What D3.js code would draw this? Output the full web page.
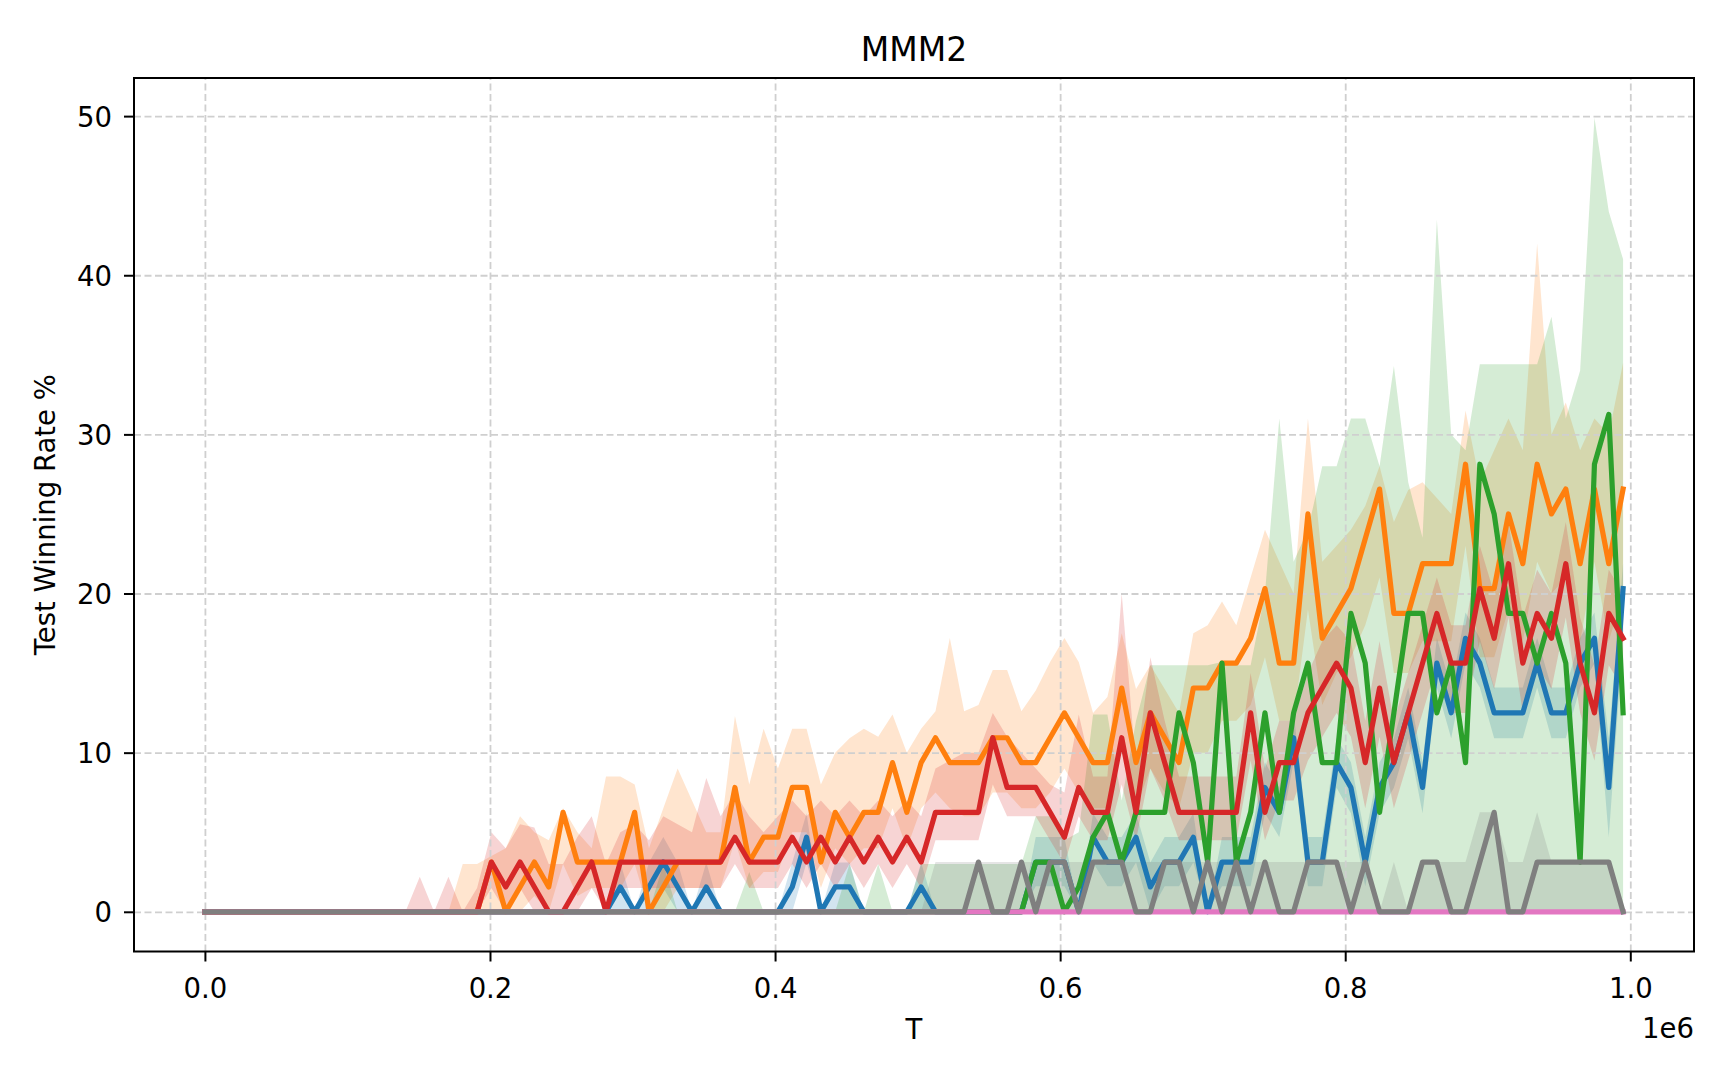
<html>
  <head>
    <script src="https://d3js.org/d3.v7.min.js"></script>
  <style>
    body {
      margin: 0;
      background: #fff;
    }

    text {
      font-family: "DejaVu Sans", sans-serif;
      fill: black;
    }

    .gridlines line {
      stroke: #cfcfcf;
      stroke-width: 1.8;
      stroke-dasharray: 7, 3.5;
    }

    .gridlines .domain {
      stroke: none;
    }

    .axis .domain {
      stroke: none;
    }

    .axis line {
      stroke: black;
      stroke-width: 2;
    }

    .axis text {
      font-size: 27.5px;
    }
  </style>
  </head>

  <body>
    <svg id="mainSVG" width="1728" height="1080"></svg>
  </body>

  <script>
      // environment steps (T)
      const T = [
        0, 10050, 20100, 30150, 40200, 50250, 60300, 70350, 80400, 90450,
        100500, 110550, 120600, 130650, 140700, 150750, 160800, 170850, 180900, 190950,
        201000, 211050, 221100, 231150, 241200, 251250, 261300, 271350, 281400, 291450,
        301500, 311550, 321600, 331650, 341700, 351750, 361800, 371850, 381900, 391950,
        402000, 412050, 422100, 432150, 442200, 452250, 462300, 472350, 482400, 492450,
        502500, 512550, 522600, 532650, 542700, 552750, 562800, 572850, 582900, 592950,
        603000, 613050, 623100, 633150, 643200, 653250, 663300, 673350, 683400, 693450,
        703500, 713550, 723600, 733650, 743700, 753750, 763800, 773850, 783900, 793950,
        804000, 814050, 824100, 834150, 844200, 854250, 864300, 874350, 884400, 894450,
        904500, 914550, 924600, 934650, 944700, 954750, 964800, 974850, 984900, 994950
      ];

      // blue run
      const blueMean = [
        0, 0, 0, 0, 0, 0, 0, 0, 0, 0,
        0, 0, 0, 0, 0, 0, 0, 0, 0, 0,
        0, 0, 0, 0, 0, 0, 0, 0, 0, 1.5625,
        0, 1.5625, 3.125, 1.5625, 0, 1.5625, 0, 0, 0, 0,
        0, 1.5625, 4.6875, 0, 1.5625, 1.5625, 0, 0, 0, 0,
        1.5625, 0, 0, 0, 0, 0, 0, 0, 3.125, 3.125,
        3.125, 0, 4.6875, 3.125, 3.125, 4.6875, 1.5625, 3.125, 3.125, 4.6875,
        0, 3.125, 3.125, 3.125, 7.8125, 6.25, 10.9375, 3.125, 3.125, 9.375,
        7.8125, 3.125, 7.8125, 9.375, 12.5, 7.8125, 15.625, 12.5, 17.1875, 15.625,
        12.5, 12.5, 12.5, 15.625, 12.5, 12.5, 15.625, 17.1875, 7.8125, 20.3125
      ];
      const blueLo = [
        0, 0, 0, 0, 0, 0, 0, 0, 0, 0,
        0, 0, 0, 0, 0, 0, 0, 0, 0, 0,
        0, 0, 0, 0, 0, 0, 0, 0, 0, 0,
        0, 0, 1.5, 0, 0, 0, 0, 0, 0, 0,
        0, 0, 3.1, 0, 0, 0, 0, 0, 0, 0,
        0, 0, 0, 0, 0, 0, 0, 0, 1.6, 1.6,
        1.6, 0, 3.1, 1.6, 1.6, 3.1, 0, 1.6, 1.6, 3.1,
        0, 1.6, 1.6, 1.6, 6.2, 4.7, 9.4, 1.6, 1.6, 7.8,
        6.2, 1.6, 6.2, 7.8, 10.9, 6.2, 14.1, 10.9, 15.6, 14.1,
        10.9, 10.9, 10.9, 14.1, 10.9, 10.9, 14.1, 15.6, 4.7, 17.2
      ];
      const blueHi = [
        0, 0, 0, 0, 0, 0, 0, 0, 0, 0,
        0, 0, 0, 0, 0, 0, 0, 0, 0, 0,
        0, 0, 0, 0, 0, 0, 0, 0, 0, 3.1,
        0, 3.1, 4.7, 3.1, 0, 3.1, 0, 0, 0, 0,
        0, 3.1, 6.2, 0, 3.1, 3.1, 0, 0, 0, 0,
        3.1, 0, 0, 0, 0, 0, 0, 0, 4.7, 4.7,
        4.7, 0, 6.2, 4.7, 4.7, 6.2, 3.1, 4.7, 4.7, 6.2,
        0, 4.7, 4.7, 4.7, 9.4, 7.8, 12.5, 4.7, 4.7, 10.9,
        9.4, 4.7, 9.4, 10.9, 14.1, 9.4, 17.2, 14.1, 18.8, 17.2,
        14.1, 14.1, 14.1, 17.2, 14.1, 14.1, 17.2, 18.8, 10.9, 21.9
      ];

      // orange run
      const orangeMean = [
        0, 0, 0, 0, 0, 0, 0, 0, 0, 0,
        0, 0, 0, 0, 0, 0, 0, 0, 0, 0,
        3.125, 0, 1.5625, 3.125, 1.5625, 6.25, 3.125, 3.125, 3.125, 3.125,
        6.25, 0, 1.5625, 3.125, 3.125, 3.125, 3.125, 7.8125, 3.125, 4.6875,
        4.6875, 7.8125, 7.8125, 3.125, 6.25, 4.6875, 6.25, 6.25, 9.375, 6.25,
        9.375, 10.9375, 9.375, 9.375, 9.375, 10.9375, 10.9375, 9.375, 9.375, 10.9375,
        12.5, 10.9375, 9.375, 9.375, 14.0625, 9.375, 12.5, 10.9375, 9.375, 14.0625,
        14.0625, 15.625, 15.625, 17.1875, 20.3125, 15.625, 15.625, 25, 17.1875, 18.75,
        20.3125, 23.4375, 26.5625, 18.75, 18.75, 21.875, 21.875, 21.875, 28.125, 20.3125,
        20.3125, 25, 21.875, 28.125, 25, 26.5625, 21.875, 26.5625, 21.875, 26.5625
      ];
      const orangeLo = [
        0, 0, 0, 0, 0, 0, 0, 0, 0, 0,
        0, 0, 0, 0, 0, 0, 0, 0, 0, 0,
        0, 0, 0, 1, 0, 3, 1, 1.5, 1.5, 1.5,
        3, 0, 0, 1.5, 1.5, 1.5, 1.5, 4.5, 1.5, 2.5,
        2.5, 5, 5, 1.5, 4, 3, 4, 4, 6.5, 4,
        6.5, 7.5, 6.5, 6, 6, 7.5, 7.5, 6.5, 6.5, 7.5,
        9, 7.5, 6.5, 6.5, 10.5, 6.5, 9, 7.5, 6.5, 10,
        10, 12, 12, 13, 16, 12, 12, 19, 13, 15,
        16, 18, 21, 15, 15, 17, 17, 17, 23, 16,
        16, 19, 17, 22, 20, 21, 17, 22, 17, 20
      ];
      const orangeHi = [
        0, 0, 0, 0, 0, 0, 0, 0, 0, 0,
        0, 0, 0, 0, 0, 0, 0, 0, 3, 3,
        3.5, 4, 6, 5, 4.5, 6.5, 5, 4, 8.5, 8.5,
        8, 4, 6.5, 9, 7, 5, 5, 12.3, 8, 11.5,
        9, 11.5, 11.5, 8, 10, 10.9, 11.5, 11, 12.4, 10,
        11.5, 12.6, 17.2, 12.6, 13, 15.2, 15.2, 12.6, 13.9, 15.7,
        17.2, 15.7, 12.5, 13.5, 17.5, 14, 15.5, 14, 12.5, 17.5,
        18, 19.5, 18, 21, 24, 22, 20, 31, 22, 23,
        24, 25.5, 28, 24.5, 26.5, 27, 26, 25, 31.5, 27,
        29, 31, 29, 42, 30, 32, 29, 31, 30, 34.5
      ];

      // green run
      const greenMean = [
        0, 0, 0, 0, 0, 0, 0, 0, 0, 0,
        0, 0, 0, 0, 0, 0, 0, 0, 0, 0,
        0, 0, 0, 0, 0, 0, 0, 0, 0, 0,
        0, 0, 0, 0, 0, 0, 0, 0, 0, 0,
        0, 0, 0, 0, 0, 0, 0, 0, 0, 0,
        0, 0, 0, 0, 0, 0, 0, 0, 3.125, 3.125,
        0, 1.5625, 4.6875, 6.25, 3.125, 6.25, 6.25, 6.25, 12.5, 9.375,
        3.125, 15.625, 3.125, 6.25, 12.5, 6.25, 12.5, 15.625, 9.375, 9.375,
        18.75, 15.625, 6.25, 12.5, 18.75, 18.75, 12.5, 15.625, 9.375, 28.125,
        25, 18.75, 18.75, 15.625, 18.75, 15.625, 3.125, 28.125, 31.25, 12.5
      ];
      const greenLo = [
        0, 0, 0, 0, 0, 0, 0, 0, 0, 0,
        0, 0, 0, 0, 0, 0, 0, 0, 0, 0,
        0, 0, 0, 0, 0, 0, 0, 0, 0, 0,
        0, 0, 0, 0, 0, 0, 0, 0, 0, 0,
        0, 0, 0, 0, 0, 0, 0, 0, 0, 0,
        0, 0, 0, 0, 0, 0, 0, 0, 0, 0,
        0, 0, 0, 0, 0, 0, 0, 0, 0, 0,
        0, 0, 0, 0, 0, 0, 0, 0, 0, 0,
        0, 0, 0, 0, 0, 0, 0, 0, 0, 0,
        0, 0, 0, 0, 0, 0, 0, 0, 0, 0
      ];
      const greenHi = [
        0, 0, 0, 0, 0, 0, 0, 0, 0, 0,
        0, 0, 0, 0, 0, 0, 0, 0, 0, 0,
        0, 0, 0, 0, 0, 0, 0, 0, 0, 0,
        0, 0, 3, 0, 0, 0, 0, 0, 2.5, 0,
        0, 0, 0, 0, 0, 3, 0, 3, 0, 0,
        3, 3, 3, 3, 3, 3, 3, 3, 6, 6,
        4.5, 5, 12.4, 12.4, 7, 12, 15.5, 15.5, 15.5, 15.5,
        15.5, 15.7, 15.5, 15.5, 20, 31, 22, 24, 28, 28,
        31, 31, 28, 34.3, 27, 23.5, 43.5, 30, 29, 34.4,
        34.4, 34.4, 34.4, 34.4, 37.4, 31, 34, 49.9, 44, 41
      ];

      // red run
      const redMean = [
        0, 0, 0, 0, 0, 0, 0, 0, 0, 0,
        0, 0, 0, 0, 0, 0, 0, 0, 0, 0,
        3.125, 1.5625, 3.125, 1.5625, 0, 0, 1.5625, 3.125, 0, 3.125,
        3.125, 3.125, 3.125, 3.125, 3.125, 3.125, 3.125, 4.6875, 3.125, 3.125,
        3.125, 4.6875, 3.125, 4.6875, 3.125, 4.6875, 3.125, 4.6875, 3.125, 4.6875,
        3.125, 6.25, 6.25, 6.25, 6.25, 10.9375, 7.8125, 7.8125, 7.8125, 6.25,
        4.6875, 7.8125, 6.25, 6.25, 10.9375, 6.25, 12.5, 9.375, 6.25, 6.25,
        6.25, 6.25, 6.25, 12.5, 6.25, 9.375, 9.375, 12.5, 14.0625, 15.625,
        14.0625, 9.375, 14.0625, 9.375, 12.5, 15.625, 18.75, 15.625, 15.625, 20.3125,
        17.1875, 21.875, 15.625, 18.75, 17.1875, 21.875, 15.625, 12.5, 18.75, 17.1875
      ];
      const redLo = [
        0, 0, 0, 0, 0, 0, 0, 0, 0, 0,
        0, 0, 0, 0, 0, 0, 0, 0, 0, 0,
        1.5, 0, 1.5, 0, 0, 0, 0, 1.5, 0, 1.5,
        1.5, 1.5, 1.5, 1.5, 1.5, 1.5, 1.5, 3, 1.5, 1.5,
        1.5, 3, 1.5, 3, 1.5, 3, 1.5, 3, 1.5, 3,
        1.5, 4.5, 4.5, 4.5, 4.5, 8, 6, 6, 6, 4.5,
        3, 6, 4.5, 4.5, 8, 4.5, 9, 7, 4.5, 4.5,
        4.5, 4.5, 4.5, 9.5, 4.5, 7, 7, 9.5, 11, 12.5,
        11, 6.5, 11, 6.5, 9.5, 12.5, 15.5, 12.5, 12.5, 17,
        14, 18.5, 12.5, 15.5, 14, 18.5, 12.5, 9.5, 15.5, 14
      ];
      const redHi = [
        0, 0, 0, 0, 0, 0, 0, 0, 0, 0,
        0, 0, 0, 0, 0, 2.2, 0, 2.2, 0, 1.5,
        5, 4, 5.5, 5.3, 3, 3, 4.7, 6, 3, 5,
        5.5, 4.5, 6, 5.5, 5, 8.4, 6, 7.5, 6, 5,
        6, 7, 6, 7, 6, 7, 6, 7, 6, 7,
        6, 9, 9.5, 10, 10, 12.5, 11, 10, 9, 8,
        7.5, 12.4, 8.5, 8.5, 20, 9, 16, 12, 8.5, 8.5,
        8.5, 8.5, 8.5, 15, 9, 12, 12, 15, 17, 18,
        17, 12, 17, 12, 15, 18, 21, 18, 18, 23,
        20, 24.5, 18.5, 21.5, 20, 24.5, 18.5, 15.5, 21.5, 20
      ];

      // pink run (never wins)
      const pinkMean = [
        0, 0, 0, 0, 0, 0, 0, 0, 0, 0,
        0, 0, 0, 0, 0, 0, 0, 0, 0, 0,
        0, 0, 0, 0, 0, 0, 0, 0, 0, 0,
        0, 0, 0, 0, 0, 0, 0, 0, 0, 0,
        0, 0, 0, 0, 0, 0, 0, 0, 0, 0,
        0, 0, 0, 0, 0, 0, 0, 0, 0, 0,
        0, 0, 0, 0, 0, 0, 0, 0, 0, 0,
        0, 0, 0, 0, 0, 0, 0, 0, 0, 0,
        0, 0, 0, 0, 0, 0, 0, 0, 0, 0,
        0, 0, 0, 0, 0, 0, 0, 0, 0, 0
      ];

      // gray run
      const grayMean = [
        0, 0, 0, 0, 0, 0, 0, 0, 0, 0,
        0, 0, 0, 0, 0, 0, 0, 0, 0, 0,
        0, 0, 0, 0, 0, 0, 0, 0, 0, 0,
        0, 0, 0, 0, 0, 0, 0, 0, 0, 0,
        0, 0, 0, 0, 0, 0, 0, 0, 0, 0,
        0, 0, 0, 0, 3.125, 0, 0, 3.125, 0, 3.125,
        3.125, 0, 3.125, 3.125, 3.125, 0, 0, 3.125, 3.125, 0,
        3.125, 0, 3.125, 0, 3.125, 0, 0, 3.125, 3.125, 3.125,
        0, 3.125, 0, 0, 0, 3.125, 3.125, 0, 0, 3.125,
        6.25, 0, 0, 3.125, 3.125, 3.125, 3.125, 3.125, 3.125, 0
      ];
      const grayHi = [
        0, 0, 0, 0, 0, 0, 0, 0, 0, 0,
        0, 0, 0, 0, 0, 0, 0, 0, 0, 0,
        0, 0, 0, 0, 0, 0, 0, 0, 0, 0,
        0, 0, 0, 0, 0, 0, 0, 0, 0, 0,
        0, 0, 0, 0, 0, 0, 0, 0, 0, 0,
        0, 3.125, 3.125, 3.125, 3.125, 3.125, 3.125, 3.125, 3.125, 3.125,
        3.125, 3.125, 3.125, 3.125, 3.125, 3.125, 3.125, 3.125, 3.125, 3.125,
        3.125, 3.125, 3.125, 3.125, 3.125, 3.125, 3.125, 3.125, 3.125, 3.125,
        3.125, 3.125, 0, 3.125, 0, 3.125, 3.125, 3.125, 3.125, 6.25,
        6.25, 3.125, 3.125, 6.25, 3.125, 3.125, 3.125, 3.125, 3.125, 0
      ];

      const xTicks = [0, 200000, 400000, 600000, 800000, 1000000];
      const yTicks = [0, 10, 20, 30, 40, 50];

      // series table (plot order = tab10 order)
      const series = [
        { key: "blue",   color: "#1f77b4", mean: blueMean,   lo: blueLo,  hi: blueHi },
        { key: "orange", color: "#ff7f0e", mean: orangeMean, lo: orangeLo, hi: orangeHi },
        { key: "green",  color: "#2ca02c", mean: greenMean,  lo: greenLo, hi: greenHi },
        { key: "red",    color: "#d62728", mean: redMean,    lo: redLo,   hi: redHi },
        { key: "pink",   color: "#e377c2", mean: pinkMean,   lo: null,    hi: null },
        { key: "gray",   color: "#7f7f7f", mean: grayMean,   lo: greenLo, hi: grayHi }
      ];

      // Set up the main SVG and dimensions
      const mainSvg = d3.select("#mainSVG");
      const margin = { top: 78, right: 34, bottom: 128.5, left: 134 };
      const width = 1728 - margin.left - margin.right;
      const height = 1080 - margin.top - margin.bottom;

      const graphGroup = mainSvg.append("g")
        .attr("transform", `translate(${margin.left},${margin.top})`);

      // matplotlib style 5% margins
      const xMin = d3.min(T), xMax = d3.max(T);
      const xPad = (xMax - xMin) * 0.05;
      const xScale = d3.scaleLinear()
        .domain([xMin - xPad, xMax + xPad])
        .range([0, width]);

      const allY = series.flatMap(s => s.hi ? s.mean.concat(s.hi, s.lo) : s.mean);
      const yMin = d3.min(allY), yMax = d3.max(allY);
      const yPad = (yMax - yMin) * 0.05;
      const yScale = d3.scaleLinear()
        .domain([yMin - yPad, yMax + yPad])
        .range([height, 0]);

      // shaded bands first
      const area = d3.area()
        .x((d, i) => xScale(T[i]))
        .y0(d => yScale(d[0]))
        .y1(d => yScale(d[1]));

      graphGroup.selectAll("path.band")
        .data(series.filter(s => s.hi))
        .join("path")
        .attr("class", "band")
        .attr("d", s => area(d3.zip(s.lo, s.hi)))
        .attr("fill", s => s.color)
        .attr("fill-opacity", 0.2)
        .attr("stroke", "none");

      // dashed grid above the bands, below the lines
      graphGroup.append("g")
        .attr("class", "gridlines")
        .attr("transform", `translate(0,${height})`)
        .call(d3.axisBottom(xScale).tickValues(xTicks).tickSize(-height).tickFormat(""));

      graphGroup.append("g")
        .attr("class", "gridlines")
        .call(d3.axisLeft(yScale).tickValues(yTicks).tickSize(-width).tickFormat(""));

      // mean lines
      const line = d3.line()
        .x((d, i) => xScale(T[i]))
        .y(d => yScale(d));

      graphGroup.selectAll("path.run")
        .data(series)
        .join("path")
        .attr("class", "run")
        .attr("d", s => line(s.mean))
        .attr("fill", "none")
        .attr("stroke", s => s.color)
        .attr("stroke-width", 5.2)
        .attr("stroke-linejoin", "round")
        .attr("stroke-linecap", "square");

      // frame
      graphGroup.append("rect")
        .attr("width", width)
        .attr("height", height)
        .attr("fill", "none")
        .attr("stroke", "black")
        .attr("stroke-width", 2);

      // Add X axis
      const xAxis = d3.axisBottom(xScale)
        .tickValues(xTicks)
        .tickSize(10)
        .tickFormat(d => d3.format(".1f")(d / 1e6));
      graphGroup.append("g")
        .attr("class", "axis")
        .attr("transform", `translate(0,${height})`)
        .call(xAxis)
        .selectAll("text")
        .attr("y", 46.5)
        .attr("dy", 0);

      // Add Y axis
      const yAxis = d3.axisLeft(yScale)
        .tickValues(yTicks)
        .tickSize(10)
        .tickPadding(12);
      graphGroup.append("g")
        .attr("class", "axis")
        .call(yAxis)
        .selectAll("text")
        .attr("dy", "0.36em");

      // labels
      mainSvg.append("text")
        .attr("x", margin.left + width / 2)
        .attr("y", 60.5)
        .attr("text-anchor", "middle")
        .style("font-size", "33px")
        .text("MMM2");

      mainSvg.append("text")
        .attr("x", margin.left + width / 2)
        .attr("y", 1038.5)
        .attr("text-anchor", "middle")
        .style("font-size", "27.5px")
        .text("T");

      mainSvg.append("text")
        .attr("x", margin.left + width)
        .attr("y", 1038)
        .attr("text-anchor", "end")
        .style("font-size", "27.5px")
        .text("1e6");

      mainSvg.append("text")
        .attr("transform", `translate(55,${margin.top + height / 2}) rotate(-90)`)
        .attr("text-anchor", "middle")
        .style("font-size", "27.5px")
        .text("Test Winning Rate %");
  </script>
</html>
